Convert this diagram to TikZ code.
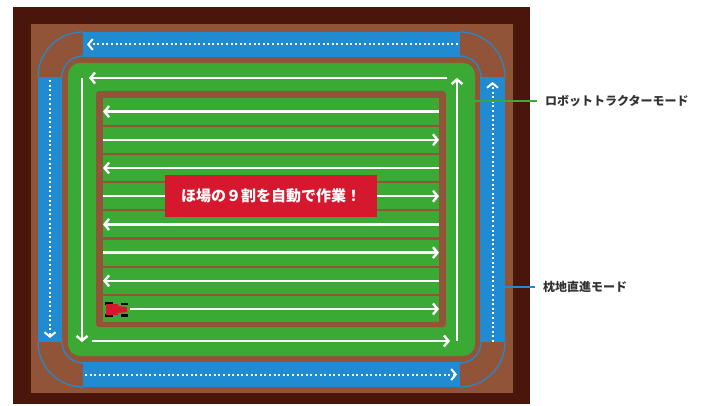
\documentclass[tikz,border=0pt]{standalone}
\usepackage{fontspec}
\setmainfont{Noto Sans CJK JP}
\usepackage{tikz}
\usetikzlibrary{positioning}
\usetikzlibrary{arrows.meta}
\usetikzlibrary{math}

\definecolor{soil}{RGB}{146,84,56}
\definecolor{darksoil}{RGB}{74,21,11}
\definecolor{grass}{RGB}{58,170,53}
\definecolor{lane}{RGB}{33,139,210}
\definecolor{banner}{RGB}{214,24,46}
\definecolor{ink}{RGB}{51,51,51}

\tikzset{
  track/.style={white, line width=2.4pt, -{Straight Barb[length=4.5pt,width=11pt]}},
  headland/.style={white, line width=2pt, dash pattern=on 2pt off 2.6pt,
    -{Straight Barb[length=4.5pt,width=11pt]}},
  modelabel/.style={anchor=west, inner xsep=8pt, inner ysep=0pt, text=ink,
    font=\bfseries\fontsize{12pt}{14pt}\selectfont},
}

\begin{document}
\begin{tikzpicture}[x=1pt,y=-1pt]
      \tikzmath{
        \rowH = 28.2;
        \rowTop = 97.5;
        \xL = 103;
        \xR = 439;
      }
      \useasboundingbox (0,0) rectangle (704,406);

      % soil around the field
      \fill[darksoil] (13,7) rectangle (530,404);
      \fill[soil] (31,24) rectangle (513,393);

      % headland lanes
      \fill[lane] (83,32) rectangle (460,57);
      \fill[lane] (83,362) rectangle (460,387);
      \fill[lane] (38,77) rectangle (62,342);
      \fill[lane] (480,77) rectangle (505,342);
      \foreach \cx/\cy/\a/\b in {83/77/180/270, 460/77/0/-90, 83/342/180/90, 460/342/0/90}
        \draw[lane, line width=1.2pt] (\cx,\cy) ++(\a:45) arc[start angle=\a, end angle=\b, radius=45]
          (\cx,\cy) ++(\a:21) arc[start angle=\a, end angle=\b, radius=21];

      % robot tractor area
      \fill[grass, rounded corners=12] (68,63) rectangle (475,356);
      \fill[soil, rounded corners=3] (96,91) rectangle (446,327);
      \foreach \i in {0,...,7}
        \fill[grass] (\xL, \rowTop+\i*\rowH+1) rectangle (\xR, \rowTop+\i*\rowH+\rowH-1);

      % rows
      \foreach \i/\from/\to in {0/439/103, 1/103/439, 2/439/103, 3/103/439,
                                4/439/103, 5/103/439, 6/439/103, 7/130/439}
        \draw[track] (\from, \rowTop+\i*\rowH+\rowH/2) -- (\to, \rowTop+\i*\rowH+\rowH/2);

      % outer round
      \draw[track] (447,78) -- (89,78);
      \draw[track] (82,78) -- (82,342);
      \draw[track] (92,341) -- (450,341);
      \draw[track] (457,341) -- (457,78);

      % headland straight runs
      \draw[headland] (458,44.5) -- (87,44.5);
      \draw[headland] (50,80) -- (50,338);
      \draw[headland] (85,374.5) -- (457,374.5);
      \draw[headland] (492.5,342) -- (492.5,82);

      % tractor
      \begin{scope}[shift={(116.5,309.5)}]
        \fill[black] (-11.5,-7.5) rectangle (-3.5,-4.5);
        \fill[black] (-11.5,4.5) rectangle (-3.5,7.5);
        \fill[black] (4.5,-7) rectangle (11,-4.5);
        \fill[black] (4.5,4.5) rectangle (11,7);
        \fill[banner] (-10.5,-5.5) -- (1.5,-5.5) -- (1.5,-3.5) -- (10.5,-2.5) -- (10.5,2.5)
          -- (1.5,3.5) -- (1.5,5.5) -- (-10.5,5.5) -- cycle;
      \end{scope}

      \node[fill=banner, minimum width=212pt, minimum height=42pt, text=white,
        font=\bfseries\fontsize{15pt}{17pt}\selectfont] (goal) at (271,196) {ほ場の９割を自動で作業！};

      % labels
      \coordinate (gtip) at (473,101);
      \node[modelabel] (robot) at (537,101) {ロボットトラクターモード};
      \draw[grass, line width=1.6pt] (gtip) -- (robot);

      \coordinate (btip) at (505,287);
      \node[modelabel] (straight) at (535,287) {枕地直進モード};
      \draw[lane, line width=2pt] (btip) -- (straight);
    \end{tikzpicture}
\end{document}
